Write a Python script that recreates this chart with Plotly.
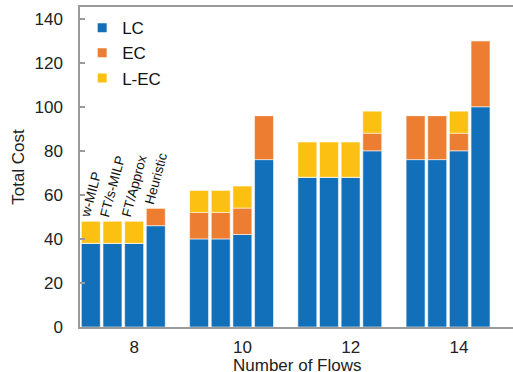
import plotly.graph_objects as go

# Number of flows on the x axis, and the four methods drawn inside each group
flows = [8, 10, 12, 14]
methods = ["FT/w-MILP", "FT/s-MILP", "FT/Approx", "Heuristic"]
method_labels = ["w-MILP", "FT/s-MILP", "FT/Approx", "Heuristic"]

# Cost components per method, one list per method ordered by flows
lc = {
    "FT/w-MILP": [38, 40, 68, 76],
    "FT/s-MILP": [38, 40, 68, 76],
    "FT/Approx": [38, 42, 68, 80],
    "Heuristic": [46, 76, 80, 100],
}
ec = {
    "FT/w-MILP": [0, 12, 0, 20],
    "FT/s-MILP": [0, 12, 0, 20],
    "FT/Approx": [0, 12, 0, 8],
    "Heuristic": [8, 20, 8, 30],
}
lec = {
    "FT/w-MILP": [10, 10, 16, 0],
    "FT/s-MILP": [10, 10, 16, 0],
    "FT/Approx": [10, 10, 16, 10],
    "Heuristic": [0, 0, 10, 0],
}

components = [("LC", lc, "#1170B9"), ("EC", ec, "#ED7D31"), ("L-EC", lec, "#FCC012")]

FONT = "Liberation Sans, Arial, sans-serif"
PITCH = 0.4      # spacing between bars within a group (x units)
BAR_W = 0.35     # bar width (x units)

fig = go.Figure()

for mi, m in enumerate(methods):
    xs = [f + (mi - 2) * PITCH for f in flows]
    base = [0] * len(flows)
    for name, comp, color in components:
        vals = comp[m]
        fig.add_trace(go.Bar(
            x=xs, y=vals, base=base, width=BAR_W,
            marker=dict(color=color, line=dict(color="rgba(255,255,255,0.55)", width=1)),
            name=name, showlegend=False, hoverinfo="skip",
        ))
        base = [b + v for b, v in zip(base, vals)]

# Legend entries with small square swatches
for name, _, color in components:
    fig.add_trace(go.Scatter(
        x=[None], y=[None], mode="markers", name=name,
        marker=dict(symbol="square", size=9, color=color),
    ))

# Method names above the first group of bars
g0 = 0
for mi, m in enumerate(methods):
    total = lc[m][g0] + ec[m][g0] + lec[m][g0]
    fig.add_annotation(
        x=flows[g0] + (mi - 2) * PITCH, y=total, text=method_labels[mi],
        textangle=-75, showarrow=False, xanchor="center", yanchor="bottom",
        font=dict(family=FONT, size=13.5, color="#111"),
    )

# x-axis title, set low so it sits just under the tick labels
fig.add_annotation(
    xref="paper", yref="paper", x=0.5, y=-0.084, yanchor="top",
    text="Number of Flows", showarrow=False,
    font=dict(family=FONT, size=17, color="#222"),
)

fig.update_layout(
    width=513, height=372,
    margin=dict(l=80, r=0, t=7, b=45),
    plot_bgcolor="white", paper_bgcolor="white",
    barmode="overlay",
    font=dict(family=FONT, size=17, color="#222"),
    legend=dict(
        x=0.005, y=0.99, xanchor="left", yanchor="top",
        bgcolor="rgba(0,0,0,0)", font=dict(family=FONT, size=17, color="#111"),
        itemwidth=30, tracegroupgap=0,
    ),
    showlegend=True,
)

fig.update_xaxes(
    range=[7, 7 + 433 / 54.125],
    tickvals=flows, ticktext=[str(f) for f in flows],
    ticks="", showgrid=False, zeroline=False,
    showline=True, linecolor="#9a9a9a", linewidth=1.5, mirror=True,
    ticklabelstandoff=4, automargin=False,
    tickfont=dict(family=FONT, size=17, color="#222"),
)
fig.update_yaxes(
    range=[0, 145.3], tick0=0, dtick=20,
    ticks="inside", ticklen=5, tickcolor="#9a9a9a", tickwidth=1.5,
    showgrid=False, zeroline=False,
    showline=True, linecolor="#9a9a9a", linewidth=1.5,
    ticklabelstandoff=12, automargin=False,
    title=dict(text="Total Cost", font=dict(family=FONT, size=17), standoff=6),
    tickfont=dict(family=FONT, size=17, color="#222"),
)

fig.write_html("out.html")
